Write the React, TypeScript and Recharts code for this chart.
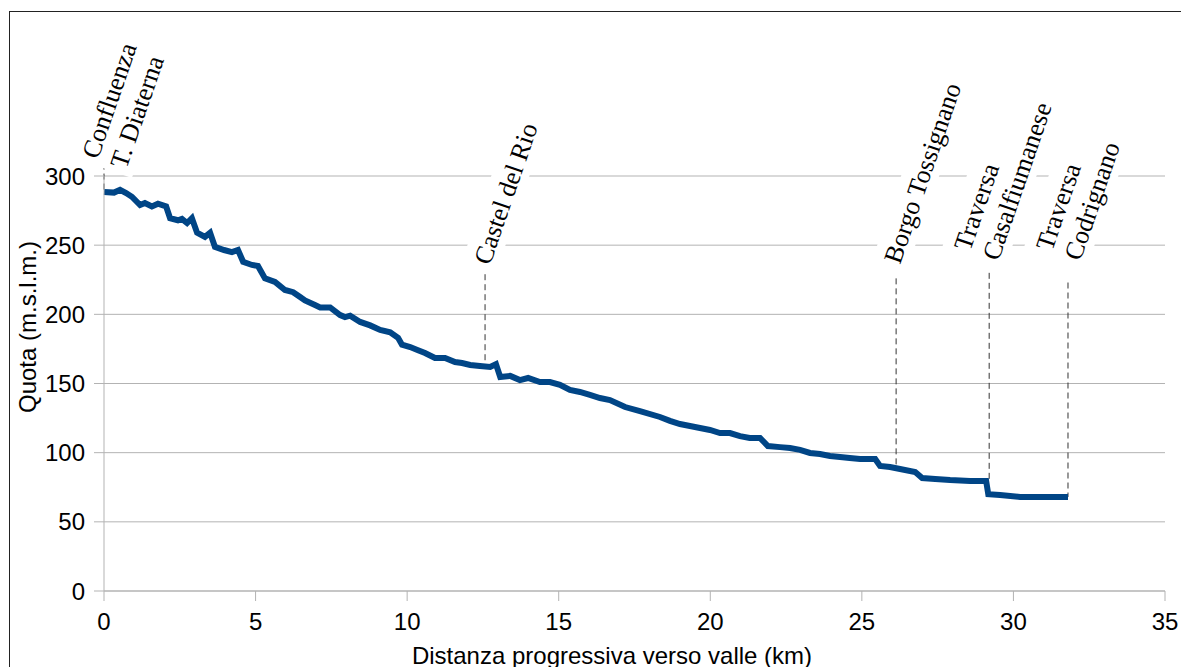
import React from "react";
import {
  LineChart,
  Line,
  XAxis,
  YAxis,
  CartesianGrid,
  ReferenceLine,
  ReferenceDot,
} from "recharts";

// profilo longitudinale: distanza (km) e quota (m s.l.m.)
const DISTANZA_KM = [
  0, 0.33, 0.53, 0.73, 0.92, 1.19, 1.35, 1.58, 1.78, 2.05, 2.18, 2.44, 2.57, 2.74, 2.9,
  3.07, 3.33, 3.5, 3.66, 3.96, 4.22, 4.42, 4.59, 4.88, 5.08, 5.31, 5.64, 5.97, 6.24, 6.47,
  6.63, 6.96, 7.13, 7.46, 7.79, 7.95, 8.12, 8.45, 8.78, 9.11, 9.44, 9.7, 9.83, 10.1, 10.36,
  10.59, 10.92, 11.25, 11.58, 11.81, 12.08, 12.4, 12.74, 12.93, 13.07, 13.4, 13.72, 13.99,
  14.38, 14.71, 15.04, 15.37, 15.7, 16.03, 16.36, 16.69, 17.19, 17.68, 18.34, 18.67, 19.0,
  19.33, 19.66, 19.99, 20.32, 20.65, 20.98, 21.3, 21.64, 21.9, 22.3, 22.63, 22.96, 23.29,
  23.62, 23.95, 24.28, 24.6, 24.94, 25.44, 25.6, 25.93, 26.26, 26.76, 26.99, 27.42, 27.91,
  28.57, 29.1, 29.17, 29.56, 30.22, 30.88, 31.8,
];
const QUOTA = [
  288.4, 288, 290, 287.7, 285, 279, 280.5, 278, 280, 278, 269.5, 268, 269, 266, 269.5,
  259, 256, 259, 248.7, 246.5, 245, 246.5, 238, 235.7, 235, 226, 223.4, 217.6, 216, 212.5,
  210, 206.7, 205, 205, 199.5, 198, 199, 194.5, 192, 188.7, 187, 183, 178, 176.4, 174,
  172, 168.4, 168.4, 165.5, 164.8, 163.4, 162.7, 162, 164, 154.7, 155.5, 152.5, 154,
  151, 151, 149, 145.3, 143.9, 141.7, 139.5, 138, 133, 130, 125.8, 123, 120.7,
  119.3, 117.8, 116.4, 114.2, 114.2, 112, 110.6, 110.6, 104.8, 104, 103.4, 102, 99.8,
  99, 97.6, 96.9, 96.1, 95.4, 95.4, 90.4, 89.6, 88.2, 86, 81.7, 81, 80.2,
  79.5, 79.5, 70, 69.4, 68, 68, 68,
];

const X_TICKS = [0, 5, 10, 15, 20, 25, 30, 35];
const Y_TICKS = [0, 50, 100, 150, 200, 250, 300];

// località lungo il profilo
const LUOGHI = [
  ["Confluenza", "T. Diaterna"],
  ["Castel del Rio"],
  ["Borgo Tossignano"],
  ["Traversa", "Casalfiumanese"],
  ["Traversa", "Codrignano"],
];
const LUOGHI_KM = [0, 12.57, 26.13, 29.2, 31.8];
const LINEA_DA = [309, 229, 226, 230, 223];
const LINEA_A = [289, 162.7, 90, 79.5, 68];
const ETICHETTA_KM = [-0.2, 12.73, 26.26, 28.57, 31.27];
const ETICHETTA_QUOTA = [311.6, 235, 235.7, 245, 245];

const data = DISTANZA_KM.map((km, i) => ({ km, quota: QUOTA[i] }));

const LINE_COLOR = "#004586";
const GRID_COLOR = "#b3b3b3";
const SANS = "'Liberation Sans', Arial, sans-serif";
const SERIF = "'Liberation Serif', 'Times New Roman', serif";
const LABEL_SIZE = 26;
const LABEL_LINE = 30;
const LABEL_ANGLE = -71;

function makeLabel(lines: string[]) {
  return (props: any) => {
    const { cx, cy } = props;
    const w = Math.max(...lines.map((l) => l.length)) * LABEL_SIZE * 0.48;
    return (
      <g transform={`translate(${cx},${cy}) rotate(${LABEL_ANGLE})`}>
        <rect
          x={-6}
          y={-LABEL_SIZE - 2}
          width={w + 12}
          height={(lines.length - 1) * LABEL_LINE + LABEL_SIZE + 10}
          fill="#fff"
        />
        {lines.map((l, i) => (
          <text
            key={i}
            x={0}
            y={i * LABEL_LINE}
            fontFamily={SERIF}
            fontSize={LABEL_SIZE}
            fill="#000"
          >
            {l}
          </text>
        ))}
      </g>
    );
  };
}

function YTitle(props: any) {
  const { viewBox } = props;
  const x = viewBox.x + 27;
  const y = viewBox.y + 151;
  return (
    <text
      x={x}
      y={y}
      transform={`rotate(-90, ${x}, ${y})`}
      textAnchor="middle"
      dominantBaseline="central"
      fontFamily={SANS}
      fontSize={24}
      fill="#000"
    >
      Quota (m.s.l.m.)
    </text>
  );
}

function XTitle(props: any) {
  const { viewBox } = props;
  return (
    <text
      x={viewBox.x + 508}
      y={viewBox.y + 64}
      textAnchor="middle"
      dominantBaseline="central"
      fontFamily={SANS}
      fontSize={24}
      fill="#000"
    >
      Distanza progressiva verso valle (km)
    </text>
  );
}

export default function App() {
  return (
    <div style={{ position: "absolute", left: 0, top: 0, width: 1181, height: 667, background: "#fff", overflow: "hidden" }}>
      <div
        style={{
          position: "absolute",
          left: 9,
          top: 11,
          width: 1200,
          height: 700,
          borderLeft: "1px solid #222",
          borderTop: "1px solid #222",
        }}
      />
      <div style={{ position: "absolute", left: 0, top: 0 }}>
        <LineChart
          width={1181}
          height={667}
          data={data}
          margin={{ top: 176, right: 16, bottom: 0, left: 0 }}
        >
          <CartesianGrid vertical={false} stroke={GRID_COLOR} horizontalValues={Y_TICKS} />
          <XAxis
            type="number"
            dataKey="km"
            domain={[0, 35]}
            ticks={X_TICKS}
            height={76}
            stroke={GRID_COLOR}
            tickSize={10}
            tickMargin={12}
            tick={{ fill: "#000", fontSize: 24, fontFamily: SANS }}
            label={<XTitle />}
          />
          <YAxis
            type="number"
            domain={[0, 300]}
            ticks={Y_TICKS}
            width={104}
            stroke={GRID_COLOR}
            tickSize={10}
            tickMargin={9}
            tick={{ fill: "#000", fontSize: 24, fontFamily: SANS }}
            label={<YTitle />}
          />
          {LUOGHI.map((lines, i) => (
            <ReferenceDot
              key={"l" + i}
              x={ETICHETTA_KM[i]}
              y={ETICHETTA_QUOTA[i]}
              ifOverflow="visible"
              shape={makeLabel(lines)}
            />
          ))}
          {LUOGHI_KM.map((km, i) => (
            <ReferenceLine
              key={"r" + i}
              segment={[
                { x: km, y: LINEA_DA[i] },
                { x: km, y: LINEA_A[i] },
              ]}
              ifOverflow="visible"
              stroke="#333"
              strokeWidth={1}
              strokeDasharray="6 4"
            />
          ))}
          <Line
            type="linear"
            dataKey="quota"
            stroke={LINE_COLOR}
            strokeWidth={6}
            dot={false}
            isAnimationActive={false}
          />
        </LineChart>
      </div>
    </div>
  );
}
